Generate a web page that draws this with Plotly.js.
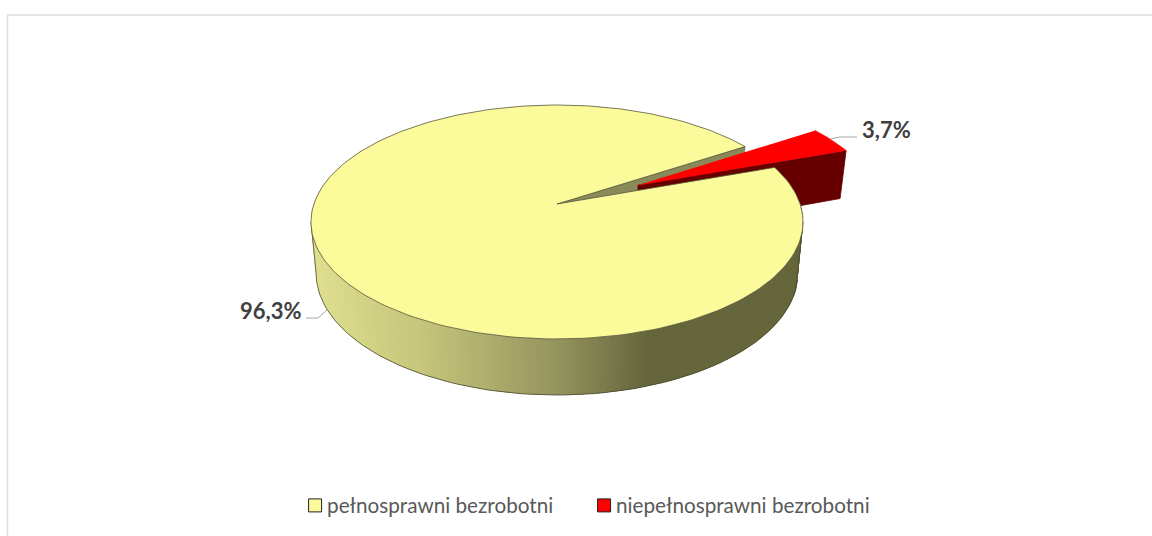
<!DOCTYPE html>
<html><head><meta charset="utf-8">
<script src="https://cdn.plot.ly/plotly-3.0.1.min.js"></script>
<style>html,body{margin:0;padding:0;background:#fff}#c{width:1152px;height:536px}</style>
</head><body><div id="c"></div>
<script>
const categories = ["pełnosprawni bezrobotni", "niepełnosprawni bezrobotni"];
const shares = [96.3, 3.7];
const labels = ["96,3%", "3,7%"];
const sliceColors = ["#FBFB9B", "#FF0000"];
const startAngle = 19.7;      // first slice starts here, running clockwise
const explode = 0.38;
// projection of the pie's plan view onto the picture
const P = 0.1538, CX = 557, TOP = {c:204, a:243.1, b:114.2}, BOT = {c:254.4, a:238, b:119};
function proj(X, Y, pl){ const w = 1 + P*Y; return [CX + pl.a*X/w, pl.c - pl.b*Y/w]; }
function rim(deg, pl, ox, oy){ const r = deg*Math.PI/180; return proj((ox||0)+Math.cos(r), (oy||0)+Math.sin(r), pl); }
function arc(a0, a1, pl, ox, oy){ const n = Math.max(2, Math.ceil(Math.abs(a1-a0)/1.5)), out = [];
  for(let i=0;i<=n;i++) out.push(rim(a0+(a1-a0)*i/n, pl, ox, oy)); return out; }
const poly = (pts, fill, line, lw, name) => ({type:"scatter", mode:"lines", x:pts.map(p=>p[0]), y:pts.map(p=>p[1]),
  fill:"toself", fillcolor:fill, line:{color:line||fill, width:lw===undefined?0.8:lw}, hoverinfo:"skip", showlegend:false, name:name||""});
const stops = [[318,[222,222,142]],[420,[198,198,124]],[557,[148,148,94]],[645,[102,102,60]],[800,[102,102,60]]];
function wallColor(x){ for(let i=1;i<stops.length;i++){ if(x<=stops[i][0]){ const [x0,c0]=stops[i-1],[x1,c1]=stops[i], t=Math.max(0,(x-x0)/(x1-x0));
  return "rgb("+c0.map((v,k)=>Math.round(v+(c1[k]-v)*t)).join(",")+")"; } } return "rgb(102,102,60)"; }
// extreme point of a rim within an angle span
function extreme(pl, a0, a1, sign){ let best = null; for(let a=a0;a<=a1;a+=0.5){ const p = rim(a,pl); if(!best || sign*p[0]>sign*best[0]) best = p; } return best; }

const sweep0 = shares[0]*3.6, sweep1 = shares[1]*3.6;
const yEnd = startAngle - sweep0;             // yellow runs clockwise from startAngle
const rA0 = startAngle, rA1 = startAngle + sweep1, mid = (rA0+rA1)/2*Math.PI/180;
const ox = explode*Math.cos(mid), oy = explode*Math.sin(mid);
const traces = [];
// cut face of the yellow slice seen through the gap
const a1T = rim(rA1, TOP), a1B = rim(rA1, BOT);
traces.push(poly([proj(0,0,TOP), a1T, a1B, proj(0,0,BOT)], "#8A8A58", "#6b6b40", 0.6));
// exploded slice: radial wall, then its top
const r0T = rim(rA0, TOP, ox, oy), r0B = rim(rA0, BOT, ox, oy);
traces.push(poly([proj(ox,oy,TOP), r0T, r0B, proj(ox,oy,BOT)], "#660000"));
traces.push(poly([proj(ox,oy,TOP)].concat(arc(rA0, rA1, TOP, ox, oy)), sliceColors[1], "#FF0000", 0.5));
// silhouette fillers and outer wall of the large slice
const tl = extreme(TOP,150,220,-1), bl = extreme(BOT,150,220,-1), tr = extreme(TOP,-40,20,1), br = extreme(BOT,-40,20,1);
traces.push(poly([tl, bl, rim(180,BOT), rim(180,TOP)], wallColor(318), wallColor(318), 0));
traces.push(poly([tr, br, rim(0,BOT), rim(0,TOP)], wallColor(800), wallColor(800), 0));
// painted left to right, each strip overlapping the next so no seams show
for(let a=-195; a<startAngle; a+=1){
  const b = Math.min(a+2.5, startAngle), p = [rim(a,TOP), rim(b,TOP), rim(b,BOT), rim(a,BOT)];
  const xm = (rim(a+0.5,TOP)[0]+rim(a+0.5,BOT)[0])/2;
  traces.push(poly(p, wallColor(xm), wallColor(xm), 0));
}
// wall outlines
const outline = (pts) => ({type:"scatter", mode:"lines", x:pts.map(p=>p[0]), y:pts.map(p=>p[1]),
  line:{color:"#4a4a30", width:0.8}, hoverinfo:"skip", showlegend:false});
traces.push(outline(arc(-12,-168,BOT).concat([bl, tl])));
traces.push(outline([tr, br].concat(arc(-12,-20,BOT))));
// top of the large slice
traces.push(poly([proj(0,0,TOP)].concat(arc(startAngle, yEnd, TOP)).concat([proj(0,0,TOP)]), sliceColors[0], "#55553a", 0.8, categories[0]));
// leader lines
const leader = (xs, ys) => ({type:"scatter", mode:"lines", x:xs, y:ys, line:{color:"#A6A6A6", width:1}, hoverinfo:"skip", showlegend:false});
traces.push(leader([306,318,327],[318,318,310]));
traces.push(leader([830,840,857],[139,137,137]));
// legend entries
categories.forEach((c,i)=>traces.push({type:"scatter", mode:"markers", x:[-50], y:[-50], name:c,
  marker:{symbol:"square", size:13, color:sliceColors[i], line:{color:"#222", width:1}}, hoverinfo:"skip", showlegend:true}));

const layout = {
  width:1152, height:536, margin:{l:0,r:0,t:0,b:0}, paper_bgcolor:"#fff", plot_bgcolor:"#fff",
  font:{family:"Lato, sans-serif"},
  xaxis:{range:[0,1152], visible:false, fixedrange:true},
  yaxis:{range:[536,0], visible:false, fixedrange:true},
  showlegend:true,
  legend:{orientation:"h", x:0.2492, xanchor:"left", y:0.057, yanchor:"middle", font:{family:"Lato, sans-serif", size:20.7, color:"#595959"},
    itemwidth:30, entrywidth:244, entrywidthmode:"pixels", itemclick:false, itemdoubleclick:false, bgcolor:"rgba(0,0,0,0)", tracegroupgap:0},
  shapes:[{type:"rect", xref:"x", yref:"y", x0:7.5, x1:1170, y0:15, y1:560, line:{color:"#DEDEDE", width:1.5}, layer:"below"}],
  annotations:[
    {x:302.5, y:310, xref:"x", yref:"y", text:"<b>"+labels[0]+"</b>", showarrow:false, xanchor:"right", yanchor:"middle", font:{family:"Lato, sans-serif", size:22, color:"#404040"}},
    {x:860, y:129, xref:"x", yref:"y", text:"<b>"+labels[1]+"</b>", showarrow:false, xanchor:"left", yanchor:"middle", font:{family:"Lato, sans-serif", size:22, color:"#404040"}}
  ]
};
Plotly.newPlot("c", traces, layout, {displayModeBar:false}).then(gd => {
  // the reference keeps each swatch closer to its label than the legend's default spacing
  gd.querySelectorAll(".legendsymbols").forEach(g => g.setAttribute("transform", "translate(8,0)"));
  // the fixed entry width must not clip the last label
  gd.querySelectorAll(".legend .scrollbox, .legend .legendtext, .legend .traces").forEach(g => g.removeAttribute("clip-path"));
  gd.querySelectorAll(".legend [clip-path]").forEach(g => g.removeAttribute("clip-path"));
  gd.querySelectorAll(".legend [style*='clip-path']").forEach(g => g.style.clipPath = "none");
});
</script></body></html>
